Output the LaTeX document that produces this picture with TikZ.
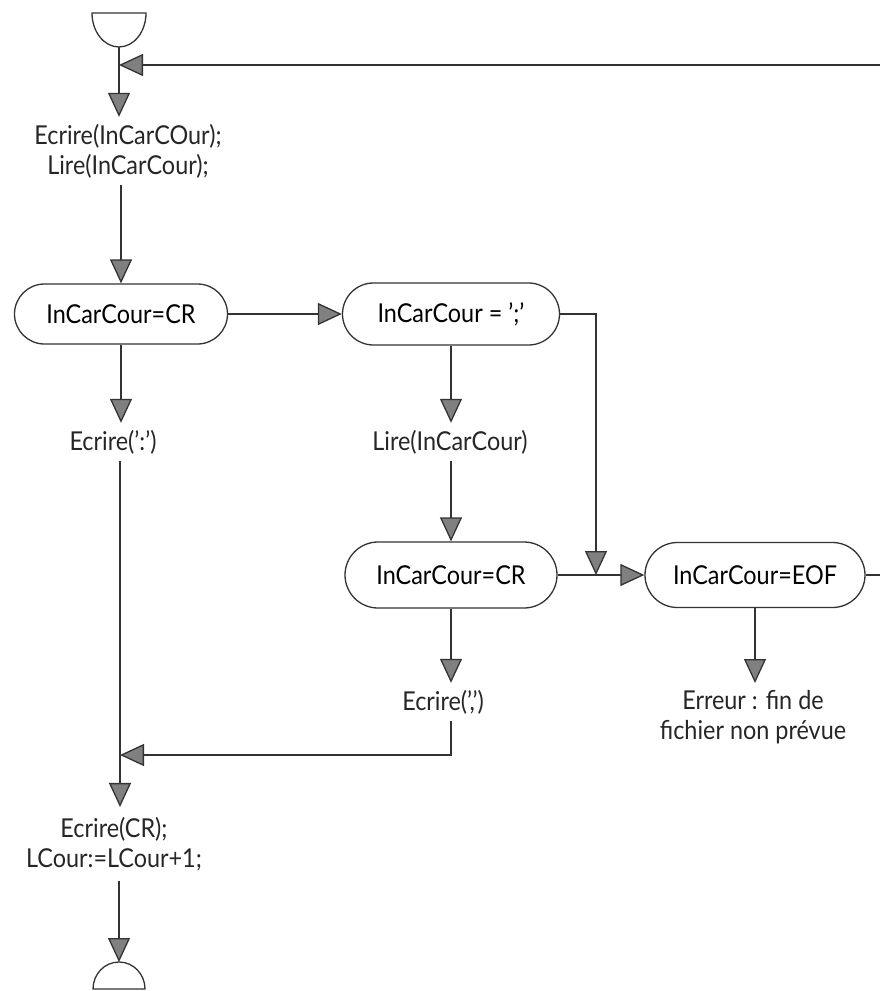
\documentclass[tikz,border=0pt]{standalone}
\usepackage{fontspec}
\setmainfont{Lato}[FakeStretch=0.9]
\usetikzlibrary{arrows.meta,shapes.misc}
\begin{document}
\begin{tikzpicture}[x=1pt, y=-1pt,
  font=\fontsize{26}{30}\selectfont,
  test/.style={draw=black!80, line width=1.3pt, rounded rectangle,
               minimum width=#1, minimum height=62pt, inner sep=0pt},
  instr/.style={align=center, inner xsep=2pt, inner ysep=7pt, text=black!85},
  ligne/.style={draw=black!80, line width=1.3pt},
  fleche/.style={ligne, -{Triangle[length=24pt, width=22pt, fill=black!50]}}
]
  \useasboundingbox (0,0) rectangle (880,991);
  % Debut et fin
  \draw[ligne] (92,13) -- (146,13) arc[start angle=0, end angle=-180, x radius=27pt, y radius=34pt] -- cycle;
  \coordinate (debut) at (119,47);
  \draw[ligne] (93,989) arc[start angle=180, end angle=0, x radius=26pt, y radius=27pt] -- cycle;
  \coordinate (fin) at (119,962);
  % Instructions et tests
  \node[instr] (init) at (128,151) {Ecrire(InCarCOur);\\Lire(InCarCour);};
  \node[test=213pt, minimum height=60pt] (cr1) at (121,314) {InCarCour=CR};
  \node[test=217pt] (pv) at (451,314) {InCarCour = ';'};
  \node[instr] (ecrdp) at (113,442) {Ecrire(':')};
  \node[instr] (lire) at (450,442) {Lire(InCarCour)};
  \node[test=212pt, minimum height=66pt] (cr2) at (451,575) {InCarCour=CR};
  \node[test=220pt, minimum height=65pt] (eof) at (755,575) {InCarCour=EOF};
  \node[instr] (ecrv) at (443,702) {Ecrire(',')};
  \node[instr] (err) at (753,717) {Erreur : fin de\\fichier non prévue};
  \node[instr, inner ysep=10pt] (ecrcr) at (114,844) {Ecrire(CR);\\LCour:=LCour+1;};
  % Points de passage
  \coordinate (jonction) at (120,755);
  \coordinate (pvcoin) at (596,314);
  \coordinate (boucle) at (890,575);
  \coordinate (retour) at (890,65);
  % Fleches
  \draw[fleche] (debut) -- (debut |- init.north);
  \draw[fleche] (eof.east) -- (boucle) -- (retour) -- (debut |- retour);
  \draw[fleche] (cr1.north |- init.south) -- (cr1.north);
  \draw[fleche] (cr1.east) -- (pv.west);
  \draw[fleche] (cr1.south) -- (cr1.south |- ecrdp.north);
  \draw[fleche] (pv.south) -- (pv.south |- lire.north);
  \draw[fleche] (pv.east) -- (pvcoin) -- (pvcoin |- cr2.east);
  \draw[fleche] (lire.south -| cr2.north) -- (cr2.north);
  \draw[fleche] (cr2.east) -- (eof.west);
  \draw[fleche] (cr2.south) -- (cr2.south |- ecrv.north);
  \draw[fleche] (eof.south) -- (eof.south |- err.north);
  \draw[fleche] (ecrv.south -| cr2.south) -- (jonction -| cr2.south) -- (jonction);
  \draw[fleche] (ecrdp.south -| jonction) -- (jonction |- ecrcr.north);
  \draw[fleche] (ecrcr.south -| fin) -- (fin);
\end{tikzpicture}
\end{document}
